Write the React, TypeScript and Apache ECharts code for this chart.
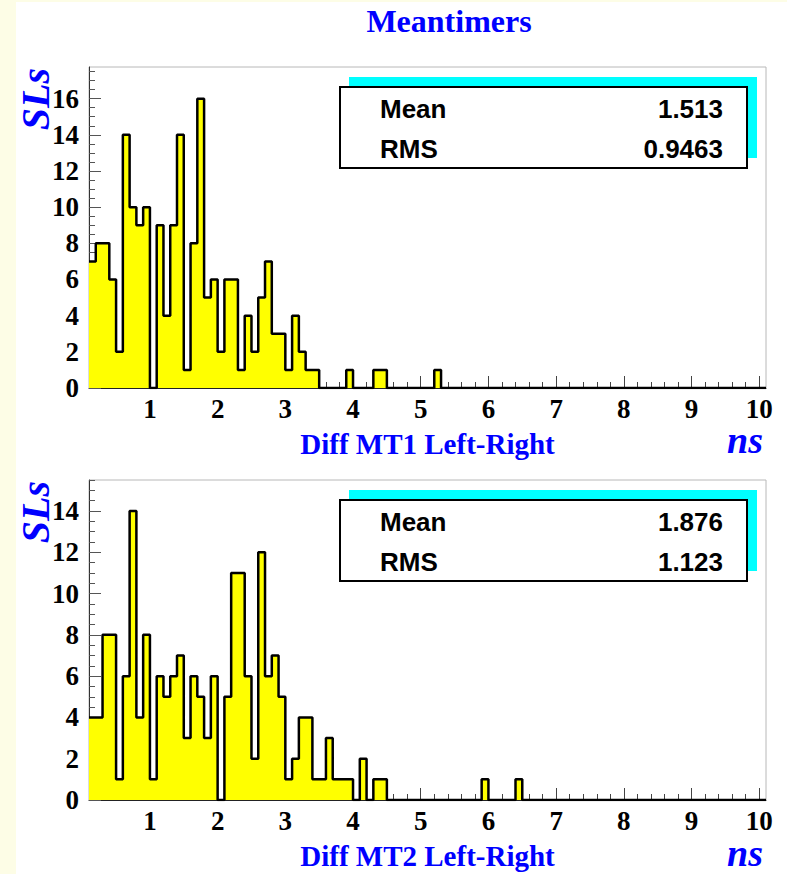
import React, { useEffect, useRef } from "react";
import * as echarts from "echarts";

// ---- Data ----
const BIN_START = 0.1;
const BIN_WIDTH = 0.1;
const N_BINS = 100;
const X_MIN = 0.1;
const X_MAX = 10.1;

// counts per 0.1-wide bin, first bin starts at 0.1 (remaining bins are empty)
const MT1_COUNTS = [
  7, 8, 8, 6, 2, 14, 10, 9, 10, 0,
  9, 4, 9, 14, 1, 8, 16, 5, 6, 2,
  6, 6, 1, 4, 2, 5, 7, 3, 3, 1,
  4, 2, 1, 1, 0, 0, 0, 0, 1, 0,
  0, 0, 1, 1, 0, 0, 0, 0, 0, 0,
  0, 1,
];
const MT2_COUNTS = [
  4, 4, 8, 8, 1, 6, 14, 4, 8, 1,
  6, 5, 6, 7, 3, 6, 5, 3, 6, 0,
  5, 11, 11, 6, 2, 12, 6, 7, 5, 1,
  2, 4, 4, 1, 1, 3, 1, 1, 1, 0,
  2, 0, 1, 1, 0, 0, 0, 0, 0, 0,
  0, 0, 0, 0, 0, 0, 0, 0, 1, 0,
  0, 0, 0, 1,
];

const X_TICK_LABELS = [1, 2, 3, 4, 5, 6, 7, 8, 9, 10];
const MT1_Y_TICKS = [0, 2, 4, 6, 8, 10, 12, 14, 16];
const MT2_Y_TICKS = [0, 2, 4, 6, 8, 10, 12, 14];
const MT1_Y_MAX = 17.75;
const MT2_Y_MAX = 15.5;

const STAT_LABELS = ["Mean", "RMS"];
const MT1_STATS = ["1.513", "0.9463"];
const MT2_STATS = ["1.876", "1.123"];

const CHART_TITLE = "Meantimers";
const X_TITLES = ["Diff MT1 Left-Right", "Diff MT2 Left-Right"];
const X_UNIT = "ns";
const Y_TITLE = "SLs";

// ---- Helpers ----
const r3 = (v: number) => Math.round(v * 1000) / 1000;

function histPoints(counts: number[]): number[][] {
  const pts: number[][] = [];
  for (let i = 0; i < N_BINS; i++) {
    pts.push([r3(BIN_START + i * BIN_WIDTH), counts[i] ?? 0]);
  }
  pts.push([X_MAX, counts[N_BINS - 1] ?? 0]);
  return pts;
}

function steps(from: number, to: number, step: number): number[] {
  const out: number[] = [];
  const n = Math.round((to - from) / step);
  for (let i = 0; i <= n; i++) out.push(r3(from + i * step));
  return out;
}

const SERIF = "Liberation Serif";
const SANS = "Liberation Sans";
const BLUE = "#0000ff";

export default function App() {
  const ref = useRef<HTMLDivElement>(null);

  useEffect(() => {
    if (!ref.current) return;
    const chart = echarts.init(ref.current, undefined, { renderer: "svg" });

    const panels = [
      { top: 67, height: 321, counts: MT1_COUNTS, yTicks: MT1_Y_TICKS, yMax: MT1_Y_MAX, stats: MT1_STATS, xTitle: X_TITLES[0], dy: 0 },
      { top: 480, height: 320, counts: MT2_COUNTS, yTicks: MT2_Y_TICKS, yMax: MT2_Y_MAX, stats: MT2_STATS, xTitle: X_TITLES[1], dy: 413 },
    ];

    const xMinor = steps(0.2, 10.0, 0.2);

    const grids: any[] = [];
    const xAxes: any[] = [];
    const yAxes: any[] = [];
    const series: any[] = [];
    const graphics: any[] = [
      { type: "rect", shape: { x: 0, y: 0, width: 16, height: 874 }, style: { fill: "#fdfde6" }, silent: true },
      { type: "rect", shape: { x: 0, y: 0, width: 787, height: 2 }, style: { fill: "#fdfde6" }, silent: true },
      {
        type: "text", x: 449, y: 21,
        style: { text: CHART_TITLE, fill: BLUE, font: `bold 32px "${SERIF}"`, align: "center", verticalAlign: "middle" },
      },
    ];

    panels.forEach((p, i) => {
      grids.push({
        left: 89, top: p.top, width: 677, height: p.height,
        show: true, backgroundColor: "#ffffff", borderColor: "#b8b8b8", borderWidth: 1,
      });
      const yMinor = steps(0, Math.floor(p.yMax * 2) / 2, 0.5);

      xAxes.push({
        gridIndex: i, type: "value", position: "bottom", min: X_MIN, max: X_MAX,
        axisLine: { show: true, lineStyle: { color: "#222", width: 1 } },
        axisTick: { show: true, inside: true, length: 12, customValues: X_TICK_LABELS, lineStyle: { color: "#444" } },
        axisLabel: {
          show: true, customValues: X_TICK_LABELS, margin: 7,
          fontFamily: SERIF, fontWeight: "bold", fontSize: 27, color: "#000",
        },
        splitLine: { show: false },
        name: p.xTitle, nameLocation: "middle", nameGap: 41,
        nameTextStyle: { fontFamily: SERIF, fontWeight: "bold", fontSize: 29, color: BLUE },
      });
      xAxes.push({
        gridIndex: i, type: "value", position: "bottom", min: X_MIN, max: X_MAX,
        axisLine: { show: false },
        axisTick: { show: true, inside: true, length: 6, customValues: xMinor, lineStyle: { color: "#444" } },
        axisLabel: { show: false },
        splitLine: { show: false },
      });
      yAxes.push({
        gridIndex: i, type: "value", position: "left", min: 0, max: p.yMax,
        axisLine: { show: true, lineStyle: { color: "#333", width: 1 } },
        axisTick: { show: true, inside: true, length: 12, customValues: p.yTicks, lineStyle: { color: "#555" } },
        axisLabel: {
          show: true, customValues: p.yTicks, margin: 10,
          fontFamily: SERIF, fontWeight: "bold", fontSize: 27, color: "#000",
        },
        splitLine: { show: false },
      });
      yAxes.push({
        gridIndex: i, type: "value", position: "left", min: 0, max: p.yMax,
        axisLine: { show: false },
        axisTick: { show: true, inside: true, length: 6, customValues: yMinor, lineStyle: { color: "#555" } },
        axisLabel: { show: false },
        splitLine: { show: false },
      });

      series.push({
        type: "line",
        xAxisIndex: i * 2, yAxisIndex: i * 2,
        step: "end",
        symbol: "none",
        data: histPoints(p.counts),
        lineStyle: { color: "#000", width: 2.5 },
        areaStyle: { color: "#ffff00", opacity: 1 },
        z: 3,
      });

      // stats box with cyan shadow
      graphics.push(
        { type: "rect", shape: { x: 349, y: 77 + p.dy, width: 408, height: 81 }, style: { fill: "#00ffff" }, z: 10 },
        { type: "rect", shape: { x: 340, y: 87 + p.dy, width: 407, height: 81 }, style: { fill: "#ffffff", stroke: "#000", lineWidth: 2 }, z: 11 },
      );
      STAT_LABELS.forEach((lab, k) => {
        const yy = 109 + k * 40 + p.dy;
        graphics.push(
          { type: "text", x: 380, y: yy, z: 12, style: { text: lab, fill: "#000", font: `bold 26px "${SANS}"`, align: "left", verticalAlign: "middle" } },
          { type: "text", x: 723, y: yy, z: 12, style: { text: p.stats[k], fill: "#000", font: `bold 26px "${SANS}"`, align: "right", verticalAlign: "middle" } },
        );
      });
      // unit and y title
      graphics.push(
        { type: "text", x: 763, y: 440 + p.dy, z: 12, style: { text: X_UNIT, fill: BLUE, font: `italic bold 38px "${SERIF}"`, lineHeight: 26, align: "right", verticalAlign: "middle" } },
        { type: "text", x: 35, y: 99 + p.dy, rotation: Math.PI / 2, z: 12, style: { text: Y_TITLE, fill: BLUE, font: `italic bold 40px "${SERIF}"`, align: "center", verticalAlign: "middle" } },
      );
    });

    chart.setOption({
      animation: false,
      backgroundColor: "#ffffff",
      grid: grids,
      xAxis: xAxes,
      yAxis: yAxes,
      series,
      graphic: graphics,
    });

    return () => chart.dispose();
  }, []);

  return (
    <div
      ref={ref}
      style={{ position: "absolute", left: 0, top: 0, width: 787, height: 874, background: "#fff" }}
    />
  );
}
